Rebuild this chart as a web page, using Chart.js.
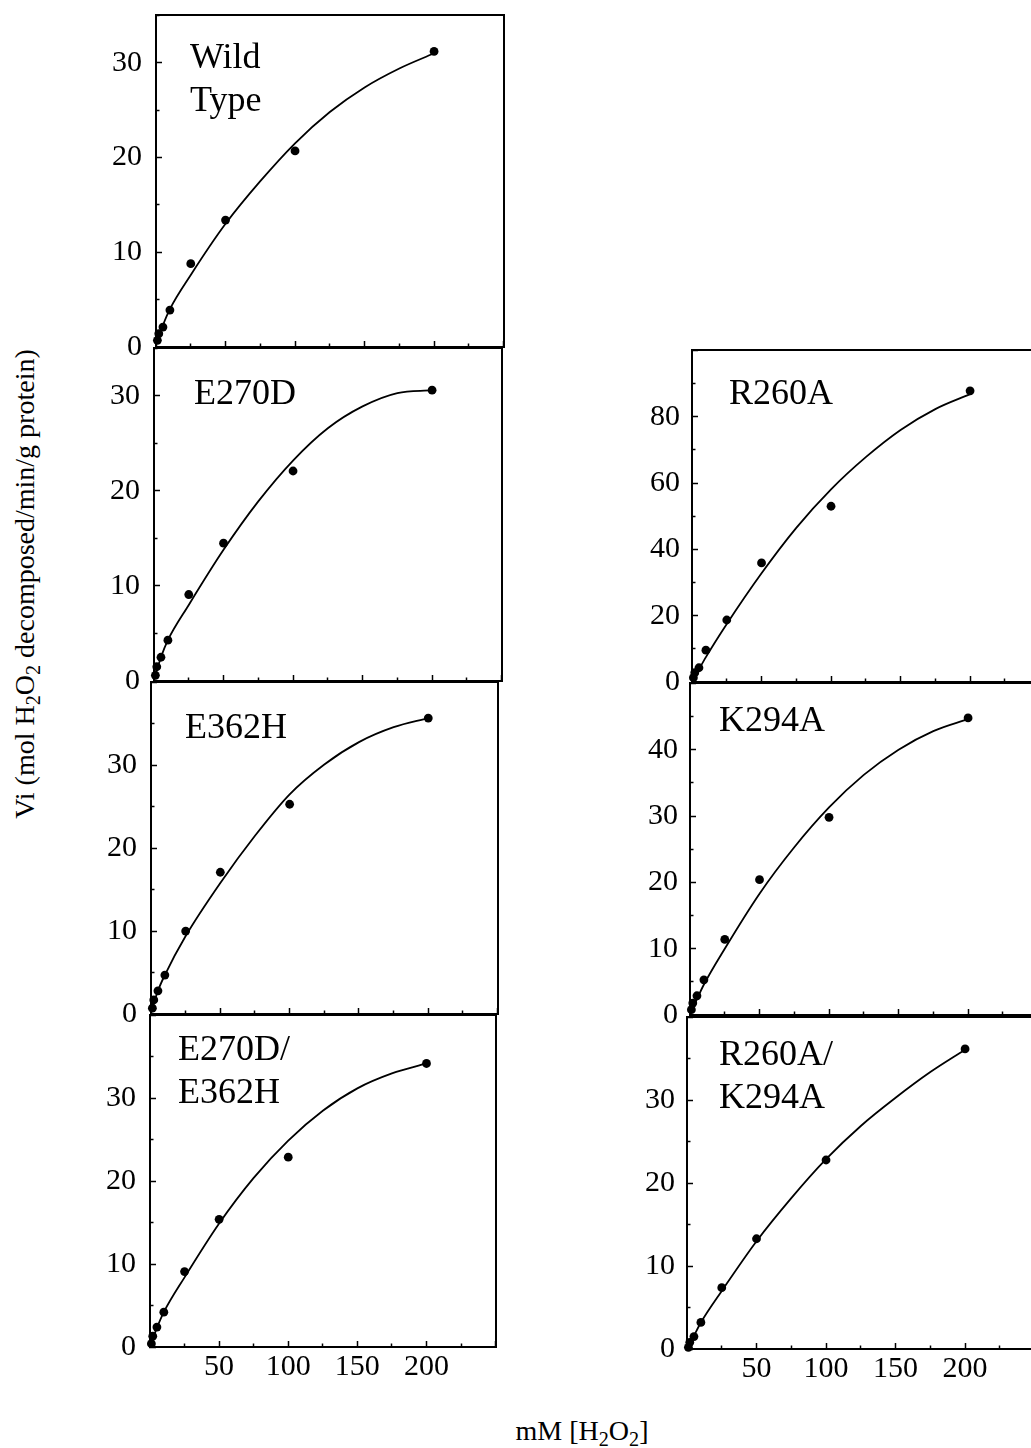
<!DOCTYPE html>
<html>
<head>
<meta charset="utf-8">
<title>Catalase kinetics</title>
<script src="https://cdn.jsdelivr.net/npm/chart.js"></script>
<style>
  html, body { margin: 0; padding: 0; background: #fff; overflow: hidden; }
  #fig { position: relative; width: 1031px; height: 1448px; overflow: hidden;
         font-family: "Liberation Serif", "Times New Roman", serif; color: #000; }
  #fig canvas { position: absolute; }
  .name { position: absolute; white-space: nowrap; font-size: 36px; line-height: 36px; }
  .axis-title { position: absolute; white-space: nowrap; font-size: 28px; line-height: 28px; }
  .axis-title sub { font-size: 0.72em; vertical-align: baseline; position: relative; top: 0.32em; }
</style>
</head>
<body>
<div id="fig"></div>
<script>
// H2O2 concentrations (mM) used for the initial-rate measurements
const concentration = [1, 2, 5, 10, 25, 50, 100, 200];

// measured initial rates, mol H2O2 decomposed / min / g protein
const rateWildType     = [0.7, 1.4, 2.1, 3.9, 8.8, 13.4, 20.7, 31.2];
const rateE270D        = [0.6, 1.5, 2.5, 4.3, 9.1, 14.5, 22.1, 30.6];
const rateE362H        = [0.7, 1.7, 2.8, 4.7, 10.0, 17.1, 25.3, 35.7];
const rateE270D_E362H  = [0.4, 1.3, 2.4, 4.2, 9.1, 15.4, 22.9, 34.2];
const rateR260A        = [1.3, 2.8, 4.3, 9.6, 18.7, 35.9, 53.0, 87.8];
const rateK294A        = [0.8, 1.8, 2.9, 5.3, 11.4, 20.4, 29.8, 44.8];
const rateR260A_K294A  = [0.2, 0.8, 1.5, 3.2, 7.4, 13.3, 22.8, 36.2];

// fitted saturation curves, sampled at fitConcentration
const fitConcentration = [1, 5, 10, 25, 50, 75, 100, 125, 150, 175, 200];
const fitWildType      = [0.6, 2.3, 4.0, 7.6, 13.0, 17.5, 21.5, 24.8, 27.4, 29.4, 31.0];
const fitE270D         = [0.6, 2.5, 4.3, 8.0, 13.8, 18.9, 23.2, 26.6, 28.9, 30.3, 30.6];
const fitE362H         = [0.7, 2.8, 4.7, 9.4, 15.8, 21.5, 26.5, 30.1, 32.8, 34.6, 35.7];
const fitE270D_E362H   = [0.5, 2.3, 4.2, 8.4, 14.9, 20.4, 24.9, 28.5, 31.2, 33.0, 34.2];
const fitR260A         = [0.8, 3.8, 7.5, 17.5, 32.8, 46.5, 58.1, 67.8, 76.0, 82.3, 86.8];
const fitK294A         = [0.5, 2.4, 4.6, 10.0, 18.3, 25.3, 31.3, 36.2, 40.0, 42.8, 44.6];
const fitR260A_K294A   = [0.3, 1.6, 3.2, 7.0, 13.0, 18.2, 22.9, 26.9, 30.3, 33.4, 36.1];

// labelled concentration ticks on the bottom panels
const xTickValues = [50, 100, 150, 200];

// panel arrangement: plot-area box in page pixels and axis settings
const panels = [
  { name: ['Wild', 'Type'],     rates: rateWildType,    fit: fitWildType,
    box: { left: 156, top: 14,   width: 349, height: 333 }, nameAt: [190, 68],
    yMax: 35, yStep: 10, yMinor: 5, gap: 14, xLabels: false },
  { name: ['E270D'],            rates: rateE270D,       fit: fitE270D,
    box: { left: 154, top: 347,  width: 349, height: 334 }, nameAt: [194, 404],
    yMax: 35, yStep: 10, yMinor: 5, gap: 14, xLabels: false },
  { name: ['E362H'],            rates: rateE362H,       fit: fitE362H,
    box: { left: 151, top: 681,  width: 348, height: 333 }, nameAt: [185, 738],
    yMax: 40, yStep: 10, yMinor: 5, gap: 14, xLabels: false },
  { name: ['E270D/', 'E362H'],  rates: rateE270D_E362H, fit: fitE270D_E362H,
    box: { left: 150, top: 1014, width: 347, height: 333 }, nameAt: [178, 1060],
    yMax: 40, yStep: 10, yMinor: 5, gap: 14, xLabels: true },
  { name: ['R260A'],            rates: rateR260A,       fit: fitR260A,
    box: { left: 692, top: 349,  width: 349, height: 333 }, nameAt: [729, 404],
    yMax: 100, yStep: 20, yMinor: 10, gap: 12, xLabels: false },
  { name: ['K294A'],            rates: rateK294A,       fit: fitK294A,
    box: { left: 690, top: 682,  width: 349, height: 333 }, nameAt: [719, 731],
    yMax: 50, yStep: 10, yMinor: 5, gap: 12, xLabels: false },
  { name: ['R260A/', 'K294A'],  rates: rateR260A_K294A, fit: fitR260A_K294A,
    box: { left: 687, top: 1016, width: 349, height: 333 }, nameAt: [719, 1065],
    yMax: 40, yStep: 10, yMinor: 5, gap: 12, xLabels: true },
];

const FONT = '"Liberation Serif", "Times New Roman", serif';
const fig = document.getElementById('fig');

function noPadding(scale) {
  scale.paddingTop = 0; scale.paddingBottom = 0;
  scale.paddingLeft = 0; scale.paddingRight = 0;
}

// top and right edges of a panel frame
function frameAxis(position) {
  return {
    type: 'linear', position: position, display: true,
    ticks: { display: false },
    grid: { display: false, drawTicks: false },
    border: { display: true, color: '#000', width: 2 },
    afterFit: s => {
      if (position === 'top') s.height = 0; else s.width = 0;
      noPadding(s);
    }
  };
}

function drawPanel(p) {
  const AXIS_W = 80;              // room for the value labels
  const PAD_TOP = 3, PAD_RIGHT = 3;
  const AXIS_H = p.xLabels ? 56 : 0;
  const PAD_BOTTOM = p.xLabels ? 3 : 22;
  const W = AXIS_W + p.box.width + PAD_RIGHT;
  const H = PAD_TOP + p.box.height + AXIS_H + PAD_BOTTOM;

  const cv = document.createElement('canvas');
  cv.width = W; cv.height = H;
  cv.style.width = W + 'px'; cv.style.height = H + 'px';
  cv.style.left = (p.box.left - AXIS_W) + 'px';
  cv.style.top = (p.box.top - PAD_TOP) + 'px';
  fig.appendChild(cv);

  new Chart(cv, {
    type: 'scatter',
    data: {
      datasets: [
        {
          data: fitConcentration.map((x, i) => ({ x: x, y: p.fit[i] })),
          showLine: true, pointRadius: 0, borderColor: '#000', borderWidth: 1.8,
          cubicInterpolationMode: 'monotone', fill: false, order: 1
        },
        {
          data: concentration.map((x, i) => ({ x: x, y: p.rates[i] })),
          showLine: false, pointRadius: 4.4, pointBackgroundColor: '#000',
          pointBorderColor: '#000', pointBorderWidth: 0, clip: false, order: 0
        }
      ]
    },
    options: {
      responsive: false, animation: false, devicePixelRatio: 1, events: [],
      layout: { padding: { top: PAD_TOP, right: PAD_RIGHT, bottom: PAD_BOTTOM, left: 0 } },
      plugins: { legend: { display: false }, tooltip: { enabled: false }, title: { display: false } },
      scales: {
        x: {
          type: 'linear', position: 'bottom', min: 0, max: 250,
          ticks: {
            stepSize: 25, autoSkip: false, maxRotation: 0, padding: 8,
            color: '#000', font: { family: FONT, size: 30 },
            callback: v => (p.xLabels && xTickValues.includes(v)) ? String(v) : ''
          },
          grid: {
            display: true, drawOnChartArea: false, drawTicks: true,
            tickLength: -6, tickWidth: 1.5, tickColor: '#000',
            tickBorderDash: c => (c.tick && c.tick.value % 50 === 0) ? [] : [4.5, 20]
          },
          border: { display: true, color: '#000', width: 2 },
          afterFit: s => { s.height = AXIS_H; noPadding(s); }
        },
        y: {
          type: 'linear', position: 'left', min: 0, max: p.yMax,
          ticks: {
            stepSize: p.yMinor, autoSkip: false, padding: p.gap + 6,
            color: '#000', font: { family: FONT, size: 30 },
            callback: v => (v % p.yStep === 0 && v < p.yMax) ? String(v) : ''
          },
          grid: {
            display: true, drawOnChartArea: false, drawTicks: true,
            tickLength: -6, tickWidth: 1.5, tickColor: '#000',
            tickBorderDash: c => (c.tick && c.tick.value % p.yStep === 0) ? [] : [4.5, 2.5],
            tickBorderDashOffset: c => (c.tick && c.tick.value % p.yStep === 0) ? 0 : 4.5
          },
          border: { display: true, color: '#000', width: 2 },
          afterFit: s => { s.width = AXIS_W; noPadding(s); }
        },
        xTop: frameAxis('top'),
        yRight: frameAxis('right')
      }
    }
  });

  // mutant name inside the panel, one line per entry
  p.name.forEach((line, i) => {
    const d = document.createElement('div');
    d.className = 'name';
    d.textContent = line;
    d.style.left = p.nameAt[0] + 'px';
    d.style.top = (p.nameAt[1] + i * 43 - 0.8375 * 36) + 'px';
    fig.appendChild(d);
  });
}

panels.forEach(drawPanel);

// shared axis titles
const yTitle = document.createElement('div');
yTitle.className = 'axis-title';
yTitle.innerHTML = 'Vi (mol H<sub>2</sub>O<sub>2</sub> decomposed/min/g protein)';
yTitle.style.left = '26px';
yTitle.style.top = '584px';
yTitle.style.transform = 'translate(-50%, -50%) rotate(-90deg)';
fig.appendChild(yTitle);

const xTitle = document.createElement('div');
xTitle.className = 'axis-title';
xTitle.innerHTML = 'mM [H<sub>2</sub>O<sub>2</sub>]';
xTitle.style.left = '582px';
xTitle.style.top = (1440 - 0.8375 * 28) + 'px';
xTitle.style.transform = 'translateX(-50%)';
fig.appendChild(xTitle);
</script>
</body>
</html>
